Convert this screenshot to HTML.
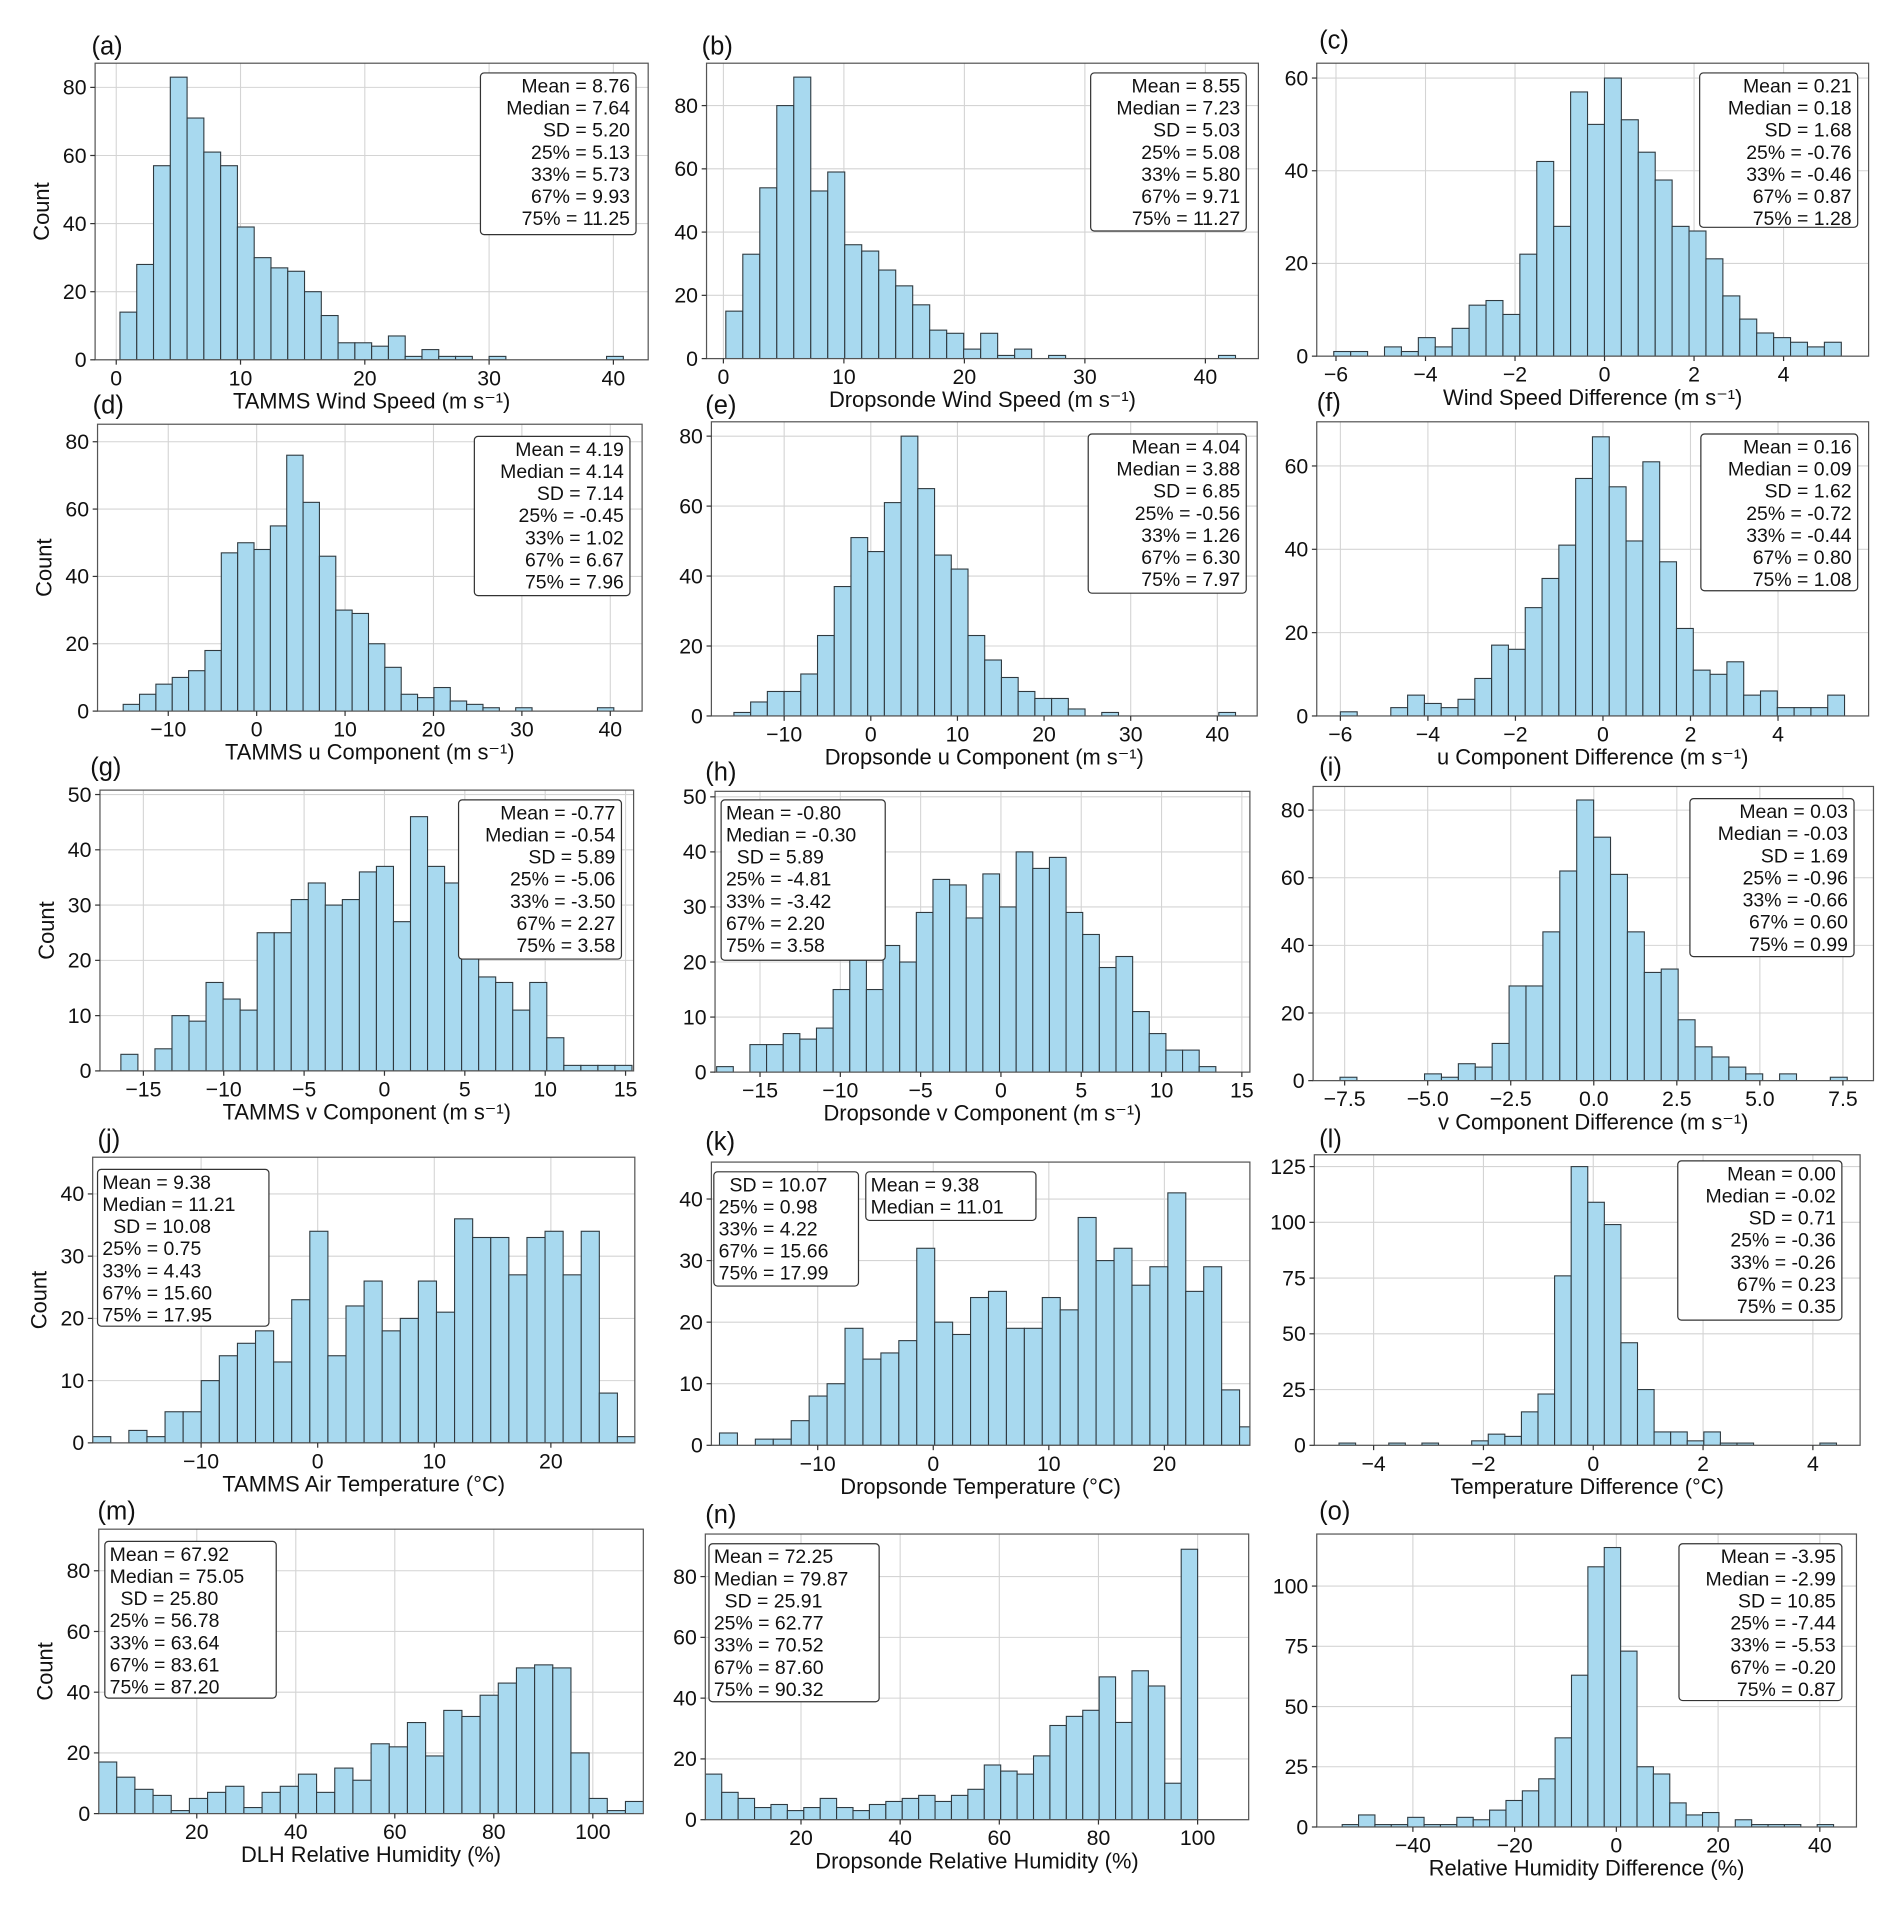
<!DOCTYPE html>
<html><head><meta charset="utf-8"><style>
html,body{margin:0;padding:0;background:#fff;}
svg{display:block;font-family:"Liberation Sans","DejaVu Sans",sans-serif;}
</style></head><body>
<svg id="fig" width="1892" height="1906" viewBox="0 0 1556 1568" xmlns="http://www.w3.org/2000/svg"></svg>
<script>
// ---- data ----
const countsA=[14,28,57,83,71,61,57,39,30,27,26,20,13,5,5,4,7,1,3,1,1,0,1,0,0,0,0,0,0,1];
const countsB=[15,33,54,80,89,53,59,36,34,28,23,17,9,8,3,8,1,3,0,1,0,0,0,0,0,0,0,0,0,1];
const countsC=[1,1,0,2,1,4,2,6,11,12,9,22,42,28,57,50,60,51,44,38,28,27,21,13,8,5,4,3,2,3];
const countsD=[2,5,8,10,12,18,47,50,48,55,76,62,46,30,29,20,13,5,4,7,3,2,1,0,1,0,0,0,0,1];
const countsE=[1,4,7,7,12,23,37,51,47,61,80,65,46,42,23,16,11,7,5,5,2,0,1,0,0,0,0,0,0,1];
const countsF=[1,0,0,2,5,3,2,4,9,17,16,26,33,41,57,67,55,42,61,37,21,11,10,13,5,6,2,2,2,5];
const countsG=[3,0,4,10,9,16,13,11,25,25,31,34,30,31,36,37,27,46,37,34,21,17,16,11,16,6,1,1,1,1];
const countsH=[1,0,5,5,7,6,8,15,22,15,23,20,29,35,34,28,36,30,40,37,39,29,25,19,21,11,7,4,4,1];
const countsI=[1,0,0,0,0,2,1,5,4,11,28,28,44,62,83,72,61,44,32,33,18,10,7,4,2,0,2,0,0,1];
const countsJ=[1,0,2,1,5,5,10,14,16,18,13,23,34,14,22,26,18,20,26,21,36,33,33,27,33,34,27,34,8,1];
const countsK=[2,0,1,1,4,8,10,19,14,15,17,32,20,18,24,25,19,19,24,22,37,30,32,26,29,41,25,29,9,3];
const countsL=[1,0,0,1,0,1,0,0,2,5,4,15,23,76,125,109,99,46,25,6,6,2,6,1,1,0,0,0,0,1];
const countsM=[17,12,8,6,1,5,7,9,2,7,9,13,7,15,11,23,22,30,19,34,32,39,43,48,49,48,20,5,1,4];
const countsN=[15,9,7,4,5,3,4,7,4,3,5,6,7,8,6,8,10,18,16,15,21,31,34,36,47,32,49,44,12,89];
const countsO=[1,5,1,1,4,1,1,4,3,7,11,15,20,37,63,108,116,73,25,22,10,5,6,0,3,1,1,1,0,1];

const xticksWind=[0,10,20,30,40];
const xticksWsDiff=[-6,-4,-2,0,2,4];
const xticksU=[-10,0,10,20,30,40];
const xticksV=[-15,-10,-5,0,5,10,15];
const xticksVDiff=[-7.5,-5.0,-2.5,0.0,2.5,5.0,7.5];
const xticksT=[-10,0,10,20];
const xticksTDiff=[-4,-2,0,2,4];
const xticksRH=[20,40,60,80,100];
const xticksRHDiff=[-40,-20,0,20,40];
const yticks80=[0,20,40,60,80];
const yticks60=[0,20,40,60];
const yticks50=[0,10,20,30,40,50];
const yticks40=[0,10,20,30,40];
const yticks125=[0,25,50,75,100,125];
const yticks100=[0,25,50,75,100];

const statsA=["Mean = 8.76","Median = 7.64","SD = 5.20","25% = 5.13","33% = 5.73","67% = 9.93","75% = 11.25"];
const statsB=["Mean = 8.55","Median = 7.23","SD = 5.03","25% = 5.08","33% = 5.80","67% = 9.71","75% = 11.27"];
const statsC=["Mean = 0.21","Median = 0.18","SD = 1.68","25% = -0.76","33% = -0.46","67% = 0.87","75% = 1.28"];
const statsD=["Mean = 4.19","Median = 4.14","SD = 7.14","25% = -0.45","33% = 1.02","67% = 6.67","75% = 7.96"];
const statsE=["Mean = 4.04","Median = 3.88","SD = 6.85","25% = -0.56","33% = 1.26","67% = 6.30","75% = 7.97"];
const statsF=["Mean = 0.16","Median = 0.09","SD = 1.62","25% = -0.72","33% = -0.44","67% = 0.80","75% = 1.08"];
const statsG=["Mean = -0.77","Median = -0.54","SD = 5.89","25% = -5.06","33% = -3.50","67% = 2.27","75% = 3.58"];
const statsH=["Mean = -0.80","Median = -0.30","  SD = 5.89","25% = -4.81","33% = -3.42","67% = 2.20","75% = 3.58"];
const statsI=["Mean = 0.03","Median = -0.03","SD = 1.69","25% = -0.96","33% = -0.66","67% = 0.60","75% = 0.99"];
const statsJ=["Mean = 9.38","Median = 11.21","  SD = 10.08","25% = 0.75","33% = 4.43","67% = 15.60","75% = 17.95"];
const statsK1=["  SD = 10.07","25% = 0.98","33% = 4.22","67% = 15.66","75% = 17.99"];
const statsK2=["Mean = 9.38","Median = 11.01"];
const statsL=["Mean = 0.00","Median = -0.02","SD = 0.71","25% = -0.36","33% = -0.26","67% = 0.23","75% = 0.35"];
const statsM=["Mean = 67.92","Median = 75.05","  SD = 25.80","25% = 56.78","33% = 63.64","67% = 83.61","75% = 87.20"];
const statsN=["Mean = 72.25","Median = 79.87","  SD = 25.91","25% = 62.77","33% = 70.52","67% = 87.60","75% = 90.32"];
const statsO=["Mean = -3.95","Median = -2.99","SD = 10.85","25% = -7.44","33% = -5.53","67% = -0.20","75% = 0.87"];

const panels=[
 {id:'a',box:[78,52,533,296],xd:[-1.7,42.8],yd:[0,87.1],start:0.3,w:1.35,counts:countsA,xt:xticksWind,yt:yticks80,xl:'TAMMS Wind Speed (m s⁻¹)',lt:[75,45],yl:true,st:[{lines:statsA,r:[395,60,523,193],al:'end'}]},
 {id:'b',box:[581,52,1035,295],xd:[-1.4,44.4],yd:[0,93.4],start:0.2,w:1.41,counts:countsB,xt:xticksWind,yt:yticks80,xl:'Dropsonde Wind Speed (m s⁻¹)',lt:[577,45],st:[{lines:statsB,r:[897,60,1025,190],al:'end'}]},
 {id:'c',box:[1083,52,1537,293],xd:[-6.43,5.9],yd:[0,63.2],start:-6.05,w:0.378,counts:countsC,xt:xticksWsDiff,yt:yticks60,xl:'Wind Speed Difference (m s⁻¹)',lt:[1085,40],st:[{lines:statsC,r:[1398,60,1528,187],al:'end'}]},
 {id:'d',box:[80,349,528,585],xd:[-18,43.6],yd:[0,85.2],start:-15.1,w:1.85,counts:countsD,xt:xticksU,yt:yticks80,xl:'TAMMS u Component (m s⁻¹)',lt:[76,340],yl:true,st:[{lines:statsD,r:[390,359,518,490],al:'end'}]},
 {id:'e',box:[585,347,1034,589],xd:[-18.4,44.6],yd:[0,84.1],start:-15.8,w:1.93,counts:countsE,xt:xticksU,yt:yticks80,xl:'Dropsonde u Component (m s⁻¹)',lt:[580,340],st:[{lines:statsE,r:[895,357,1025,488],al:'end'}]},
 {id:'f',box:[1083,347,1537,589],xd:[-6.54,6.07],yd:[0,70.6],start:-6.0,w:0.384,counts:countsF,xt:xticksWsDiff,yt:yticks60,xl:'u Component Difference (m s⁻¹)',lt:[1083,338],st:[{lines:statsF,r:[1399,357,1528,486],al:'end'}]},
 {id:'g',box:[82,650,521,881],xd:[-17.7,15.5],yd:[0,50.8],start:-16.4,w:1.06,counts:countsG,xt:xticksV,yt:yticks50,xl:'TAMMS v Component (m s⁻¹)',lt:[74,638],yl:true,st:[{lines:statsG,r:[377,658,511,789],al:'end'}]},
 {id:'h',box:[588,651,1028,882],xd:[-17.8,15.5],yd:[0,51],start:-17.7,w:1.036,counts:countsH,xt:xticksV,yt:yticks50,xl:'Dropsonde v Component (m s⁻¹)',lt:[580,642],st:[{lines:statsH,r:[593,658,728,790],al:'start'}]},
 {id:'i',box:[1080,647,1541,889],xd:[-8.45,8.42],yd:[0,87],start:-7.64,w:0.509,counts:countsI,xt:xticksVDiff,yt:yticks80,xl:'v Component Difference (m s⁻¹)',lt:[1085,638],st:[{lines:statsI,r:[1390,657,1525,787],al:'end'}]},
 {id:'j',box:[76,952,522,1187],xd:[-19.3,27.2],yd:[0,45.9],start:-19.3,w:1.552,counts:countsJ,xt:xticksT,yt:yticks40,xl:'TAMMS Air Temperature (°C)',lt:[80,944],yl:true,st:[{lines:statsJ,r:[80,962,221,1091],al:'start'}]},
 {id:'k',box:[585,956,1028,1189],xd:[-19.2,27.4],yd:[0,46],start:-18.5,w:1.552,counts:countsK,xt:xticksT,yt:yticks40,xl:'Dropsonde Temperature (°C)',lt:[580,946],st:[{lines:statsK1,r:[587,964,706,1058],al:'start'},{lines:statsK2,r:[712,964,852,1004],al:'start'}]},
 {id:'l',box:[1081,950,1530,1189],xd:[-5.08,4.86],yd:[0,130.3],start:-4.63,w:0.302,counts:countsL,xt:xticksTDiff,yt:yticks125,xl:'Temperature Difference (°C)',lt:[1085,944],st:[{lines:statsL,r:[1380,955,1515,1086],al:'end'}]},
 {id:'m',box:[81,1258,529,1492],xd:[0.2,110.2],yd:[0,93.7],start:0.16,w:3.67,counts:countsM,xt:xticksRH,yt:yticks80,xl:'DLH Relative Humidity (%)',lt:[80,1250],yl:true,st:[{lines:statsM,r:[86,1268,227,1397],al:'start'}]},
 {id:'n',box:[580,1262,1027,1497],xd:[0.7,110.3],yd:[0,94],start:0.7,w:3.31,counts:countsN,xt:xticksRH,yt:yticks80,xl:'Dropsonde Relative Humidity (%)',lt:[580,1253],st:[{lines:statsN,r:[583,1270,723,1400],al:'start'}]},
 {id:'o',box:[1083,1262,1527,1503],xd:[-58.9,47.2],yd:[0,121.6],start:-53.9,w:3.22,counts:countsO,xt:xticksRHDiff,yt:yticks100,xl:'Relative Humidity Difference (%)',lt:[1085,1250],st:[{lines:statsO,r:[1381,1270,1515,1399],al:'end'}]}
];

const NS='http://www.w3.org/2000/svg';
const svg=document.getElementById('fig');
function mk(tag,attrs,parent){const e=document.createElementNS(NS,tag);for(const k in attrs)e.setAttribute(k,attrs[k]);parent.appendChild(e);return e;}
let panelsHasDecimals=false;
function fmt(v){let s=(Math.abs(v%1)>1e-9||panelsHasDecimals)?v.toFixed(1):String(v);return v<0?'−'+s.slice(1):s;}

panels.forEach(p=>{
  const [x0,y0,x1,y1]=p.box;
  const sx=v=>x0+(v-p.xd[0])/(p.xd[1]-p.xd[0])*(x1-x0);
  const sy=v=>y1-(v-p.yd[0])/(p.yd[1]-p.yd[0])*(y1-y0);
  const g=mk('g',{},svg);
  
  
  const cp=mk('clipPath',{id:'clip-'+p.id},g);
  mk('rect',{x:x0,y:y0,width:x1-x0,height:y1-y0},cp);
  const grid=mk('g',{stroke:'#d4d4d4','stroke-width':0.9},g);
  
  
  p.xt.forEach(t=>{const x=sx(t);if(x>=x0&&x<=x1)mk('line',{x1:x,x2:x,y1:y0,y2:y1},grid);});
  p.yt.forEach(t=>{const y=sy(t);if(y>=y0&&y<=y1)mk('line',{x1:x0,x2:x1,y1:y,y2:y},grid);});
  const bars=mk('g',{'clip-path':'url(#clip-'+p.id+')'},g);
  
  
  p.counts.forEach((c,i)=>{
    if(c<=0)return;
    const a=sx(p.start+i*p.w), b=sx(p.start+(i+1)*p.w);
    const r=mk('rect',{x:a,y:sy(c),width:b-a,height:sy(0)-sy(c),fill:'#a8d9ef',stroke:'#2f3a40','stroke-width':0.9},bars);
    
    
  });
  const fr=mk('rect',{x:x0,y:y0,width:x1-x0,height:y1-y0,fill:'none',stroke:'#555','stroke-width':1},g);
  
  
  panelsHasDecimals=(p.id==='i');
  p.xt.forEach(t=>{const x=sx(t);
    mk('line',{x1:x,x2:x,y1:y1,y2:y1+4,stroke:'#333','stroke-width':1},g);
    const tx=mk('text',{x:x,y:y1+21,'font-size':17.5,'text-anchor':'middle',fill:'#111'},g);
    tx.textContent=fmt(t);
    
    
  });
  panelsHasDecimals=false;
  p.yt.forEach(t=>{const y=sy(t);
    mk('line',{x1:x0-4,x2:x0,y1:y,y2:y,stroke:'#333','stroke-width':1},g);
    const tx=mk('text',{x:x0-7,y:y+6,'font-size':17.5,'text-anchor':'end',fill:'#111'},g);
    tx.textContent=String(t);
    
    
  });
  const xl=mk('text',{x:(x0+x1)/2,y:y1+40,'font-size':18,'text-anchor':'middle',fill:'#111'},g);
  xl.textContent=p.xl;
  
  
  if(p.yl){
    const yl=mk('text',{x:0,y:0,'font-size':18,'text-anchor':'middle',fill:'#111',transform:'translate('+(x0-38)+','+((y0+y1)/2)+') rotate(-90)'},g);
    yl.textContent='Count';
    
    
  }
  const lt=mk('text',{x:p.lt[0],y:p.lt[1],'font-size':21,fill:'#111'},g);
  lt.textContent='('+p.id+')';
  
  
  p.st.forEach((s,k)=>{
    const [bx0,by0,bx1,by1]=s.r;
    const sg=mk('g',{},g);
    
    
    mk('rect',{x:bx0,y:by0,width:bx1-bx0,height:by1-by0,rx:3,fill:'#fff',stroke:'#333','stroke-width':1},sg);
    const lh=18.2;
    s.lines.forEach((ln,j)=>{
      const t=mk('text',{x:s.al==='end'?bx1-5:bx0+4,y:by0+16+j*lh,'font-size':16,'text-anchor':s.al,fill:'#111'},sg);
      t.style.whiteSpace='pre';
      t.textContent=ln;
      
      
    });
  });
});
</script>
</body></html>
